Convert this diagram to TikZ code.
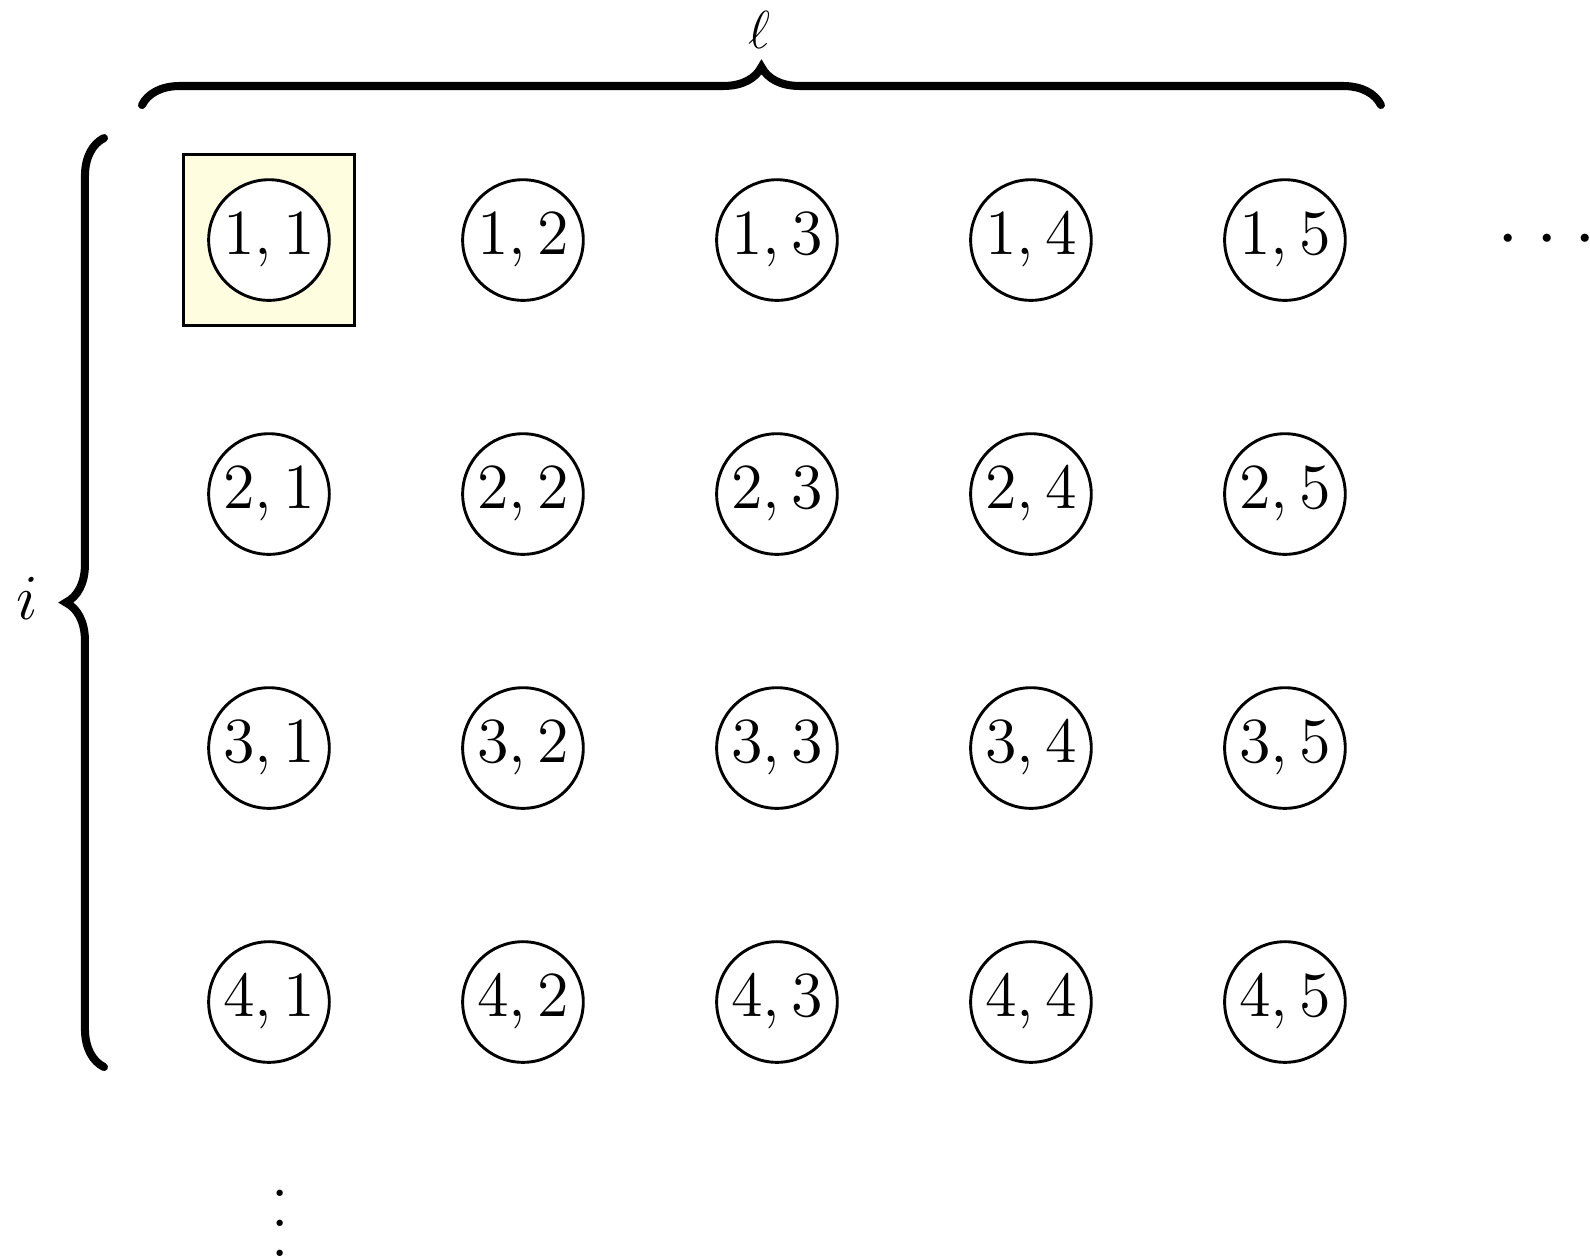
\documentclass[tikz,border=0pt]{standalone}
\usepackage{amsmath,amssymb}
\usetikzlibrary{decorations.pathreplacing}

\newcommand{\colvdots}{\vbox{\baselineskip6.7pt\lineskiplimit-10pt\hbox{.}\hbox{.}\hbox{.}}}

\tikzset{
  cell/.style={circle, draw, fill=white, line width=0.65pt, inner sep=0pt,
               minimum size=0.95cm, font=\Large},
  markbox/.style={draw, line width=0.65pt, fill=yellow!12, minimum size=1.35cm},
  bigbrace/.style={decorate, decoration={brace, amplitude=0.3cm},
                   line width=1.8pt, line cap=round}
}

\begin{document}
\begin{tikzpicture}
  \useasboundingbox (-2.118,-8.024) rectangle (10.402,1.890);

  % Highlighted first cell
  \node[markbox] (mark) at (0,0) {};

  % Grid of cells (i,l)
  \foreach \i in {1,...,4}
    \foreach \j in {1,...,5}
      \node[cell] (n\i\j) at ({2*(\j-1)}, {-2*(\i-1)}) {$\i,\j$};

  % Continuation dots
  \node[font=\LARGE] (hdots) at (10.063,0) {$\cdot$\hspace{3.9pt}$\cdot$\hspace{3.9pt}$\cdot$};
  \node[font=\LARGE] (vdots) at (0.087,-7.74) {\colvdots};

  % Brace over the columns
  \coordinate (topl) at (-1.0,1.063);
  \coordinate (topr) at (8.756,1.063);
  \draw[bigbrace] (topl) -- (topr);
  \node[font=\large] (ell) at (3.866,1.654) {$\ell$};

  % Brace beside the rows
  \coordinate (leftb) at (-1.299,-6.512);
  \coordinate (leftt) at (-1.299,0.803);
  \draw[bigbrace] (leftb) -- (leftt);
  \node[font=\Large] (idx) at (-1.906,-2.819) {$i$};
\end{tikzpicture}
\end{document}
